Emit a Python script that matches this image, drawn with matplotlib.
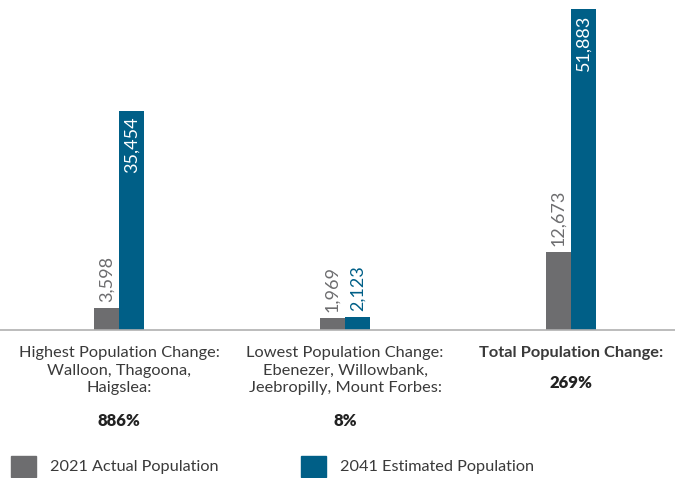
import numpy as np
import matplotlib.pyplot as plt
from matplotlib.patches import Rectangle
from matplotlib.transforms import blended_transform_factory

plt.rcParams['font.family'] = ['Lato', 'DejaVu Sans']

# data
groups = ["Highest Population Change:\nWalloon, Thagoona,\nHaigslea:",
          "Lowest Population Change:\nEbenezer, Willowbank,\nJeebropilly, Mount Forbes:",
          "Total Population Change:"]
pct = ["886%", "8%", "269%"]
pop2021 = [3598, 1969, 12673]
pop2041 = [35454, 2123, 51883]
series = ["2021 Actual Population", "2041 Estimated Population"]

gray = "#6d6d6f"
blue = "#005f87"
txt = "#3a3a3a"

fig = plt.figure(figsize=(6.75, 4.78), dpi=100)
ax = fig.add_axes([0, 1 - 330 / 478, 1, 330 / 478])

x = np.arange(len(groups))
w = 0.111
b1 = ax.bar(x - w / 2, pop2021, w, color=gray)
b2 = ax.bar(x + w / 2, pop2041, w, color=blue)

ax.set_xlim(-0.527, 2.46)
ax.set_ylim(0, 53340)
for s in ["top", "left", "right"]:
    ax.spines[s].set_visible(False)
ax.spines["bottom"].set_color("#b0b0b0")
ax.spines["bottom"].set_linewidth(1.2)
ax.set_xticks([])
ax.set_yticks([])

for r, v in zip(b1, pop2021):
    ax.annotate(f"{v:,}", (r.get_x() + r.get_width() / 2, v), xytext=(0, 4),
                textcoords="offset points", rotation=90, ha="center", va="bottom",
                fontsize=13, color=gray)
for r, v in zip(b2, pop2041):
    cx = r.get_x() + r.get_width() / 2
    if v > 10000:
        ax.annotate(f"{v:,}", (cx, v), xytext=(0, -4), textcoords="offset points",
                    rotation=90, ha="center", va="top", fontsize=13, color="white")
    else:
        ax.annotate(f"{v:,}", (cx, v), xytext=(0, 4), textcoords="offset points",
                    rotation=90, ha="center", va="bottom", fontsize=13, color=blue)

# group labels below axis
tr = blended_transform_factory(ax.transData, fig.transFigure)
for i, (g, p) in enumerate(zip(groups, pct)):
    bold = i == 2
    ax.text(i, 1 - 346 / 478, g, transform=tr, ha="center", va="top",
            fontsize=11.8, color=txt, linespacing=1.32,
            fontweight="bold" if bold else "normal")
    py = 383 if bold else 421
    ax.text(i, 1 - py / 478, p, transform=tr, ha="center", va="center",
            fontsize=12, color="#222222", fontweight="heavy")

# legend
for lx, col, lab in [(11, gray, series[0]), (301, blue, series[1])]:
    fig.patches.append(Rectangle((lx / 675, 1 - 477 / 478), 25 / 675, 21 / 478,
                                 transform=fig.transFigure, color=col))
    fig.text((lx + 39) / 675, 1 - 467 / 478, lab, ha="left", va="center",
             fontsize=11.7, color=txt)

fig.savefig("out.png", dpi=100)
